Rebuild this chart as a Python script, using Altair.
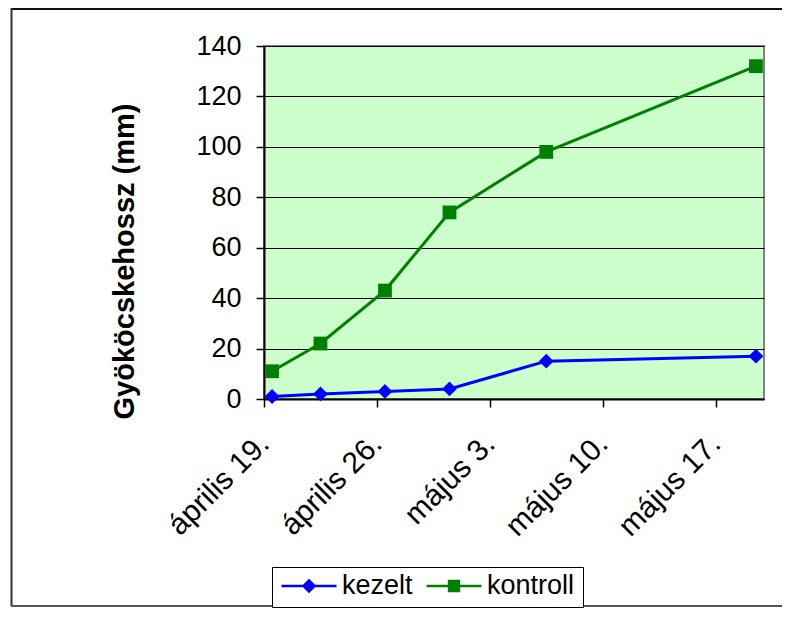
import altair as alt
import pandas as pd

# ---- data ----
dates = ["2007-04-19", "2007-04-22", "2007-04-26", "2007-04-30", "2007-05-06", "2007-05-19"]
kezelt = [1, 2, 3, 4, 15, 17]
kontroll = [11, 22, 43, 74, 98, 132]
series_names = ["kezelt", "kontroll"]
series_colors = ["#0000FF", "#008000"]
tick_dates = [(2007, 4, 19), (2007, 4, 26), (2007, 5, 3), (2007, 5, 10), (2007, 5, 17)]
x_domain = [(2007, 4, 19), (2007, 5, 20)]
y_ticks = [0, 20, 40, 60, 80, 100, 120, 140]
y_title = "Gyököcskehossz (mm)"

FONT = "Liberation Sans"

rows = []
for d, a, b in zip(dates, kezelt, kontroll):
    t = d + "T12:00:00Z"  # date axis: each day's point sits mid-day
    rows.append({"date": t, "series": "kezelt", "value": a})
    rows.append({"date": t, "series": "kontroll", "value": b})
df = pd.DataFrame(rows)


def dt(y, m, d):
    return alt.DateTime(year=y, month=m, date=d, utc=True)


color_scale = alt.Scale(domain=series_names, range=series_colors)

x_enc = alt.X(
    "date:T",
    title=None,
    scale=alt.Scale(type="utc", domain=[dt(*x_domain[0]), dt(*x_domain[1])]),
    axis=alt.Axis(
        values=[dt(*t) for t in tick_dates],
        labelExpr="(utcmonth(datum.value) == 3 ? 'április ' : 'május ') + utcdate(datum.value) + '.'",
        grid=False,
        labelAngle=-45,
        labelAlign="right",
        labelBaseline="middle",
        labelPadding=32,
        labelFontSize=30,
        labelFont=FONT,
        labelColor="black",
        tickSize=8,
        tickColor="black",
        tickWidth=1.5,
        domainColor="black",
        domainWidth=2,
        labelOverlap=False,
    ),
)
y_enc = alt.Y(
    "value:Q",
    scale=alt.Scale(domain=[0, 140], nice=False),
    axis=alt.Axis(
        values=y_ticks,
        title=y_title,
        titleFont=FONT,
        titleFontSize=29,
        titleFontWeight="bold",
        titleColor="black",
        titleAngle=270,
        titleAlign="center",
        titleBaseline="alphabetic",
        titleX=-131,
        titleY=215,
        grid=True,
        gridColor="black",
        gridWidth=1,
        labelFontSize=27,
        labelFont=FONT,
        labelColor="black",
        labelPadding=15,
        tickSize=8,
        tickColor="black",
        tickWidth=1.5,
        domainColor="black",
        domainWidth=2,
    ),
)

legend = alt.Legend(
    title=None,
    orient="none",
    legendX=8,
    legendY=521,
    direction="horizontal",
    symbolSize=3025,
    symbolStrokeWidth=2.5,
    symbolOpacity=1,
    labelFontSize=27,
    labelFont=FONT,
    labelColor="black",
    labelOffset=4,
    columnPadding=12,
    strokeColor="black",
    fillColor="white",
    padding=8,
    clipHeight=22,
)

legend_paths = [
    "M-1,0H1M0,-0.2L0.2,0L0,0.2L-0.2,0Z",
    "M-1,0H1M-0.18,-0.18H0.18V0.18H-0.18Z",
]

base = alt.Chart(df)

lines = base.mark_line(strokeWidth=3).encode(
    x=x_enc, y=y_enc,
    stroke=alt.Stroke("series:N", scale=color_scale, legend=legend),
)
pts_k = base.transform_filter(alt.datum.series == "kezelt").mark_point(
    filled=True, shape="diamond", size=220, opacity=1
).encode(x=x_enc, y=y_enc, fill=alt.Fill("series:N", scale=color_scale, legend=legend))
pts_c = base.transform_filter(alt.datum.series == "kontroll").mark_point(
    filled=True, shape="square", size=190, opacity=1
).encode(x=x_enc, y=y_enc, fill=alt.Fill("series:N", scale=color_scale, legend=legend))

legend_carrier = base.mark_point(filled=True, opacity=0).encode(
    x=x_enc, y=y_enc,
    fill=alt.Fill("series:N", scale=color_scale, legend=legend),
    stroke=alt.Stroke("series:N", scale=color_scale, legend=legend),
    shape=alt.Shape("series:N", scale=alt.Scale(domain=series_names, range=legend_paths), legend=legend),
)

# outer chart-area frame (top, left, bottom edges; right edge lies outside the window)
one = pd.DataFrame({"a": [0]})
frame_top = alt.Chart(one).mark_rule(stroke="#111111", strokeWidth=2).encode(
    x=alt.value(-253), x2=alt.value(530), y=alt.value(-37)
)
frame_left = alt.Chart(one).mark_rule(stroke="#333333", strokeWidth=2).encode(
    x=alt.value(-252.5), y=alt.value(-38), y2=alt.value(560)
)
frame_bottom = alt.Chart(one).mark_rule(stroke="#555555", strokeWidth=2).encode(
    x=alt.value(-253), x2=alt.value(530), y=alt.value(560)
)

chart = alt.layer(frame_top, frame_left, frame_bottom, lines, pts_k, pts_c, legend_carrier).properties(
    width=500,
    height=353,
    autosize=alt.AutoSizeParams(type="none"),
    padding={"left": 256, "top": 38, "right": 18, "bottom": 212},
    background="white",
).configure_view(
    fill="#CCFFCC", stroke="#808080", strokeWidth=2
)

chart.save("out.html", embed_options={"renderer": "svg", "actions": False})
